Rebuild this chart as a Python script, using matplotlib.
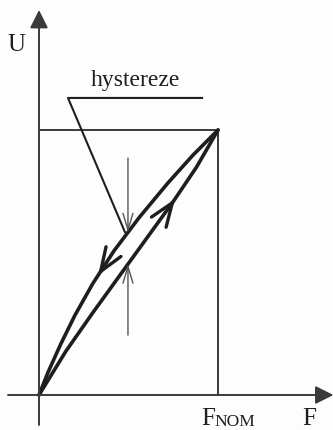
import numpy as np
import matplotlib
matplotlib.use("Agg")
import matplotlib.pyplot as plt

plt.rcParams['font.family'] = ['Liberation Serif', 'DejaVu Serif']

# hysteresis of the sensor output, normalised to F_NOM and U(F_NOM)
f_up = [0.0, 0.15, 0.30, 0.45, 0.60, 0.75, 0.88, 1.0]
u_up = [0.0, 0.165, 0.31, 0.45, 0.59, 0.73, 0.86, 1.0]
f_down = [0.0, 0.05, 0.12, 0.20, 0.30, 0.42, 0.56, 0.72, 0.86, 1.0]
u_down = [0.0, 0.085, 0.19, 0.30, 0.42, 0.545, 0.67, 0.80, 0.905, 1.0]

f_gap = 0.497  # where the hysteresis width is marked

fig = plt.figure(figsize=(3.33, 4.30), dpi=100)
fig.patch.set_facecolor('#fdfdfd')
ax = fig.add_axes([0, 0, 1, 1])
ax.set_xlim(-0.2179, 1.6425)
ax.set_ylim(-0.1321, 1.4906)
ax.axis('off')

ink = '#1e1e1e'
axis_col = '#3a3a3a'

# axes with filled arrow heads
ax.annotate('', xy=(1.645, 0), xytext=(-0.173, 0),
            arrowprops=dict(arrowstyle='-|>,head_length=1.1,head_width=0.55',
                            mutation_scale=10, lw=1.4, color=axis_col,
                            shrinkA=0, shrinkB=0))
ax.annotate('', xy=(0, 1.453), xytext=(0, -0.113),
            arrowprops=dict(arrowstyle='-|>,head_length=1.1,head_width=0.55',
                            mutation_scale=10, lw=1.4, color=axis_col,
                            shrinkA=0, shrinkB=0))

# nominal point box
ax.plot([0, 1, 1], [1, 1, 0], color=axis_col, lw=1.4)

# loading / unloading curves
ax.plot(f_up, u_up, color=ink, lw=2.6, solid_capstyle='round',
        solid_joinstyle='round')
ax.plot(f_down, u_down, color=ink, lw=2.6, solid_capstyle='round',
        solid_joinstyle='round')

head = dict(arrowstyle='->,head_length=0.85,head_width=0.32', mutation_scale=20,
            lw=2.4, color=ink, shrinkA=0, shrinkB=0)
tip_up = 0.76
ax.annotate('', xy=(tip_up, np.interp(tip_up, f_up, u_up)),
            xytext=(tip_up - 0.02, np.interp(tip_up - 0.02, f_up, u_up)),
            arrowprops=head)
tip_dn = 0.33
ax.annotate('', xy=(tip_dn, np.interp(tip_dn, f_down, u_down)),
            xytext=(tip_dn + 0.02, np.interp(tip_dn + 0.02, f_down, u_down)),
            arrowprops=head)

# hysteresis width marker
u_top = np.interp(f_gap, f_down, u_down)
u_bot = np.interp(f_gap, f_up, u_up)
thin = dict(arrowstyle='->,head_length=1.0,head_width=0.3', mutation_scale=12,
            lw=1.0, color='#555555', shrinkA=0, shrinkB=0)
ax.annotate('', xy=(f_gap, u_top), xytext=(f_gap, 0.894), arrowprops=thin)
ax.annotate('', xy=(f_gap, u_bot), xytext=(f_gap, 0.226), arrowprops=thin)

# label with leader line
ax.plot([0.911, 0.162, 0.480], [1.121, 1.121, 0.615], color=ink, lw=1.5)
ax.text(0.536, 1.166, 'hystereze', fontsize=17, color=ink,
        ha='center', va='baseline')

ax.text(-0.128, 1.30, 'U', fontsize=18, color=ink, ha='center', va='baseline')
ax.text(1.508, -0.113, 'F', fontsize=18, color=ink, ha='center', va='baseline')
ax.text(0.905, -0.113, 'F', fontsize=18, color=ink, ha='left', va='baseline')
ax.text(0.978, -0.117, 'NOM', fontsize=12.5, color=ink, ha='left', va='baseline')

fig.savefig('out.png', dpi=100, facecolor=fig.get_facecolor())
